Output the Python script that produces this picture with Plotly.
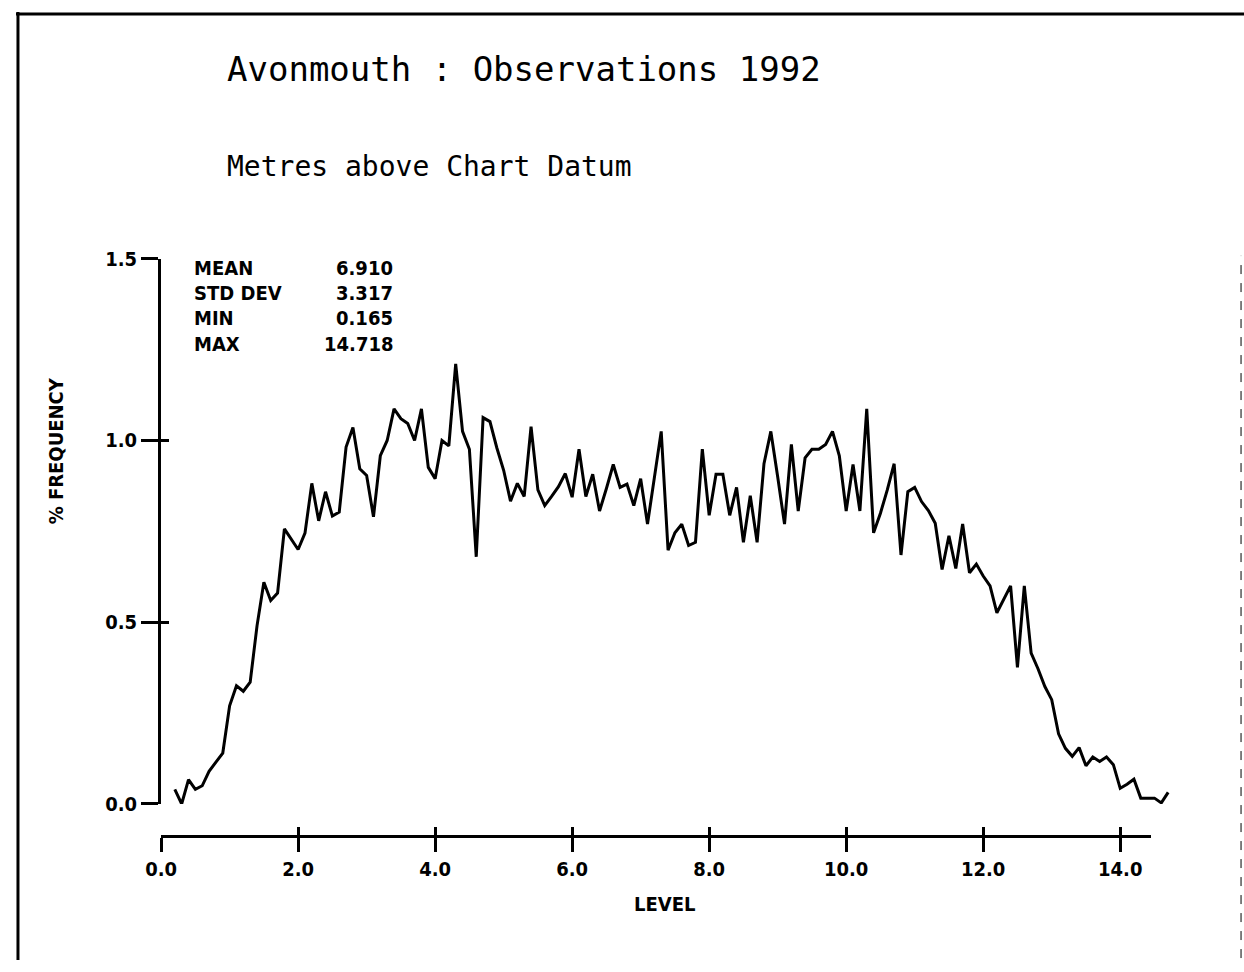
import plotly.graph_objects as go

# ---- data ----
level = [0.2, 0.3, 0.4, 0.5, 0.6, 0.7, 0.8, 0.9, 1.0, 1.1,
         1.2, 1.3, 1.4, 1.5, 1.6, 1.7, 1.8, 1.9, 2.0, 2.1,
         2.2, 2.3, 2.4, 2.5, 2.6, 2.7, 2.8, 2.9, 3.0, 3.1,
         3.2, 3.3, 3.4, 3.5, 3.6, 3.7, 3.8, 3.9, 4.0, 4.1,
         4.2, 4.3, 4.4, 4.5, 4.6, 4.7, 4.8, 4.9, 5.0, 5.1,
         5.2, 5.3, 5.4, 5.5, 5.6, 5.7, 5.8, 5.9, 6.0, 6.1,
         6.2, 6.3, 6.4, 6.5, 6.6, 6.7, 6.8, 6.9, 7.0, 7.1,
         7.2, 7.3, 7.4, 7.5, 7.6, 7.7, 7.8, 7.9, 8.0, 8.1,
         8.2, 8.3, 8.4, 8.5, 8.6, 8.7, 8.8, 8.9, 9.0, 9.1,
         9.2, 9.3, 9.4, 9.5, 9.6, 9.7, 9.8, 9.9, 10.0, 10.1,
         10.2, 10.3, 10.4, 10.5, 10.6, 10.7, 10.8, 10.9, 11.0, 11.1,
         11.2, 11.3, 11.4, 11.5, 11.6, 11.7, 11.8, 11.9, 12.0, 12.1,
         12.2, 12.3, 12.4, 12.5, 12.6, 12.7, 12.8, 12.9, 13.0, 13.1,
         13.2, 13.3, 13.4, 13.5, 13.6, 13.7, 13.8, 13.9, 14.0, 14.1,
         14.2, 14.3, 14.4, 14.5, 14.6, 14.7]

frequency = [0.040, 0.000, 0.067, 0.040, 0.050, 0.090, 0.115, 0.140, 0.270, 0.325,
             0.310, 0.335, 0.490, 0.610, 0.560, 0.580, 0.757, 0.727, 0.700, 0.745,
             0.882, 0.779, 0.859, 0.792, 0.803, 0.982, 1.036, 0.922, 0.904, 0.790,
             0.958, 1.000, 1.087, 1.060, 1.047, 1.000, 1.087, 0.926, 0.895, 1.000,
             0.985, 1.211, 1.025, 0.976, 0.680, 1.063, 1.052, 0.980, 0.918, 0.833,
             0.882, 0.846, 1.038, 0.864, 0.821, 0.846, 0.873, 0.909, 0.844, 0.976,
             0.846, 0.907, 0.806, 0.868, 0.934, 0.871, 0.880, 0.821, 0.895, 0.770,
             0.900, 1.025, 0.698, 0.746, 0.770, 0.711, 0.720, 0.976, 0.794, 0.907,
             0.907, 0.794, 0.871, 0.720, 0.848, 0.720, 0.936, 1.025, 0.900, 0.770,
             0.989, 0.806, 0.952, 0.976, 0.976, 0.989, 1.025, 0.958, 0.806, 0.934,
             0.806, 1.087, 0.746, 0.800, 0.864, 0.936, 0.685, 0.859, 0.871, 0.832,
             0.807, 0.772, 0.645, 0.738, 0.648, 0.770, 0.636, 0.660, 0.627, 0.600,
             0.526, 0.564, 0.600, 0.376, 0.600, 0.415, 0.372, 0.323, 0.287, 0.193,
             0.153, 0.131, 0.155, 0.105, 0.129, 0.117, 0.129, 0.108, 0.043, 0.054,
             0.068, 0.016, 0.016, 0.016, 0.003, 0.032]

stat_names = ["MEAN", "STD DEV", "MIN", "MAX"]
stat_values = ["6.910", "3.317", "0.165", "14.718"]

y_ticks = [0.0, 0.5, 1.0, 1.5]
x_ticks = [0.0, 2.0, 4.0, 6.0, 8.0, 10.0, 12.0, 14.0]

title_text = "Avonmouth : Observations 1992"
subtitle_text = "Metres above Chart Datum"
x_title = "LEVEL"
y_title = "% FREQUENCY"

# ---- layout helpers (pixel -> paper) ----
W, H = 1244, 972
def px(x):
    return x / W
def py(y):
    return 1 - y / H

X0 = 147.0          # pixel of level 0
PPU = 69.4          # pixels per level unit
Y0, Y15 = 812.0, 253.0
XAX_Y = 845.0

BOLD = "Liberation Sans Narrow, DejaVu Sans Condensed, Arial Narrow, sans-serif"
MONO = "DejaVu Sans Mono, Liberation Mono, monospace"

fig = go.Figure()
fig.add_trace(go.Scatter(
    x=level, y=frequency, mode="lines",
    line=dict(color="black", width=3),
    xaxis="x", yaxis="y", showlegend=False, hoverinfo="skip"))
# empty helper traces so the drawn axes get created
for xa, ya in [("x2", "y"), ("x3", "y"), ("x", "y2")]:
    fig.add_trace(go.Scatter(x=[None], y=[None], mode="lines", xaxis=xa, yaxis=ya,
                             showlegend=False, hoverinfo="skip"))

tickfont = dict(family=BOLD, size=20, color="black", weight="bold")

fig.update_layout(
    width=W, height=H, autosize=False,
    margin=dict(l=0, r=0, t=0, b=0, pad=0),
    paper_bgcolor="white", plot_bgcolor="rgba(0,0,0,0)",
    showlegend=False,
    xaxis=dict(domain=[px(X0), px(X0 + 14.8 * PPU)], range=[0, 14.8],
               visible=False, fixedrange=True),
    yaxis=dict(domain=[py(Y0), py(Y15)], range=[0, 1.5], anchor="x",
               showline=True, linecolor="black", linewidth=3,
               ticks="outside", ticklen=17, tickwidth=3, tickcolor="black",
               tickvals=y_ticks, tickformat=".1f",
               tickfont=tickfont, showgrid=False, zeroline=False),
    yaxis2=dict(overlaying="y", anchor="x", side="left", range=[0, 1.5],
                ticks="inside", ticklen=8, tickwidth=3, tickcolor="black",
                tickvals=y_ticks, showticklabels=False,
                showline=False, showgrid=False, zeroline=False),
    xaxis2=dict(domain=[px(X0), px(X0 + 14.45 * PPU)], range=[0, 14.45],
                anchor="free", position=py(XAX_Y),
                showline=True, linecolor="black", linewidth=3,
                ticks="outside", ticklen=14, tickwidth=3, tickcolor="black",
                tickvals=x_ticks, tickformat=".1f", tickfont=tickfont,
                showgrid=False, zeroline=False),
    xaxis3=dict(overlaying="x2", anchor="free", position=py(XAX_Y),
                range=[0, 14.45], ticks="inside", ticklen=9, tickwidth=3,
                tickcolor="black", tickvals=x_ticks, showticklabels=False,
                showline=False, showgrid=False, zeroline=False),
)

ann = []
ann.append(dict(text=title_text, x=px(212), y=py(58), xref="paper", yref="paper",
                xanchor="left", yanchor="middle", showarrow=False,
                font=dict(family=MONO, size=34, color="black")))
ann.append(dict(text=subtitle_text, x=px(212), y=py(158), xref="paper", yref="paper",
                xanchor="left", yanchor="middle", showarrow=False,
                font=dict(family=MONO, size=28, color="black")))
ann.append(dict(text=x_title, x=px(657), y=py(915), xref="paper", yref="paper",
                xanchor="center", yanchor="middle", showarrow=False,
                font=dict(family=BOLD, size=20, color="black", weight="bold")))
ann.append(dict(text=y_title, x=px(40), y=py(450), xref="paper", yref="paper",
                xanchor="center", yanchor="middle", showarrow=False, textangle=-90,
                font=dict(family=BOLD, size=20, color="black", weight="bold")))
row_y = [262, 288, 314, 340]
for name, val, ry in zip(stat_names, stat_values, row_y):
    ann.append(dict(text=name, x=px(178), y=py(ry), xref="paper", yref="paper",
                    xanchor="left", yanchor="middle", showarrow=False,
                    font=dict(family=BOLD, size=20, color="black", weight="bold")))
    ann.append(dict(text=val, x=px(384), y=py(ry), xref="paper", yref="paper",
                    xanchor="right", yanchor="middle", showarrow=False,
                    font=dict(family=BOLD, size=20, color="black", weight="bold")))
fig.update_layout(annotations=ann)

# page frame
fig.add_shape(type="line", xref="paper", yref="paper", x0=0, x1=1, y0=py(2), y1=py(2),
              line=dict(color="black", width=3))
fig.add_shape(type="line", xref="paper", yref="paper", x0=px(2), x1=px(2), y0=0, y1=1,
              line=dict(color="black", width=3))
fig.add_shape(type="line", xref="paper", yref="paper", x0=px(1241), x1=px(1241),
              y0=py(970), y1=py(250), line=dict(color="black", width=1, dash="dash"))

fig.write_html("out.html", config={"displayModeBar": False},
               post_script="document.body.style.margin='0';document.body.style.overflow='hidden';")
